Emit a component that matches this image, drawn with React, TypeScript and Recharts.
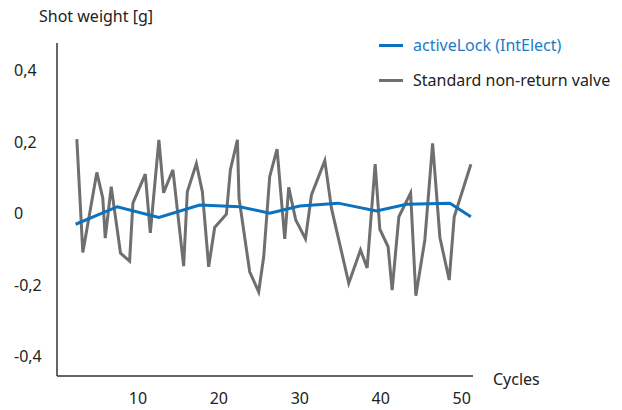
import React from 'react';
import { LineChart, Line, XAxis, YAxis } from 'recharts';

const standardX = [2.45, 3.19, 4.92, 5.66, 5.96, 6.7, 7.85, 8.97, 9.38, 10.91, 11.53, 12.59, 13.17, 14.32, 15.65, 16.1, 17.22, 17.96, 18.74, 19.48, 20.93, 21.42, 22.29, 22.49, 23.81, 24.92, 25.54, 26.28, 27.19, 28.14, 28.63, 29.5, 30.7, 31.44, 33.09, 33.91, 36.05, 37.5, 38.32, 39.31, 39.89, 40.91, 41.41, 42.24, 43.69, 44.34, 45.45, 46.41, 47.31, 48.46, 49.08, 51.14];
const standardY = [0.208, -0.109, 0.115, 0.043, -0.069, 0.075, -0.111, -0.133, 0.029, 0.11, -0.054, 0.206, 0.058, 0.122, -0.147, 0.061, 0.14, 0.061, -0.149, -0.039, -0.002, 0.122, 0.206, 0.043, -0.163, -0.219, -0.121, 0.103, 0.18, -0.071, 0.073, -0.018, -0.071, 0.052, 0.148, 0.015, -0.195, -0.102, -0.152, 0.138, -0.044, -0.093, -0.214, -0.009, 0.057, -0.23, -0.074, 0.196, -0.067, -0.186, -0.009, 0.138];

const activeX = [2.3, 7.45, 12.59, 17.63, 22.57, 26.28, 29.99, 34.73, 39.48, 43.19, 48.55, 51.14];
const activeY = [-0.03, 0.019, -0.011, 0.024, 0.019, 0.001, 0.021, 0.029, 0.007, 0.026, 0.029, -0.009];

const xTicks = [10, 20, 30, 40, 50];
const yTicks = [-0.4, -0.2, 0, 0.2, 0.4];

const seriesNames = ['activeLock (IntElect)', 'Standard non-return valve'];
const seriesColors = ['#0a72bf', '#6f6f6f'];

const standardData = standardX.map((x, i) => ({ x, y: standardY[i] }));
const activeData = activeX.map((x, i) => ({ x, y: activeY[i] }));

const FONT = '"Noto Sans", sans-serif';
const TEXT = '#222';
const FS = 16;

const fmt = (v: number) => (v === 0 ? '0' : String(v).replace('.', ','));

const YTick = (props: any) => {
  const { y, payload } = props;
  return (
    <text x={14} y={y} dy="0.35em" textAnchor="start" fontFamily={FONT} fontSize={FS} fill={TEXT}>
      {fmt(payload.value)}
    </text>
  );
};

const XTick = (props: any) => {
  const { x, payload } = props;
  return (
    <text x={x} y={376 + 22} dy="0.35em" textAnchor="middle" fontFamily={FONT} fontSize={FS} fill={TEXT}>
      {payload.value}
    </text>
  );
};

export default function App() {
  return (
    <div style={{ position: 'absolute', left: 0, top: 0, width: 622, height: 410, background: '#fff' }}>
      <LineChart width={622} height={410} data={standardData} margin={{ top: 43, right: 149, bottom: 0, left: 0 }}>
        <XAxis
          type="number"
          dataKey="x"
          domain={[0, 51.4]}
          ticks={xTicks}
          tick={<XTick />}
          tickLine={false}
          axisLine={{ stroke: '#333', strokeWidth: 1.5 }}
          height={34}
          allowDataOverflow
          label={{
            content: () => (
              <text x={493} y={379} dy="0.35em" textAnchor="start" fontFamily={FONT} fontSize={FS} fill={TEXT}>
                Cycles
              </text>
            ),
          }}
        />
        <YAxis
          type="number"
          domain={[-0.4545, 0.477]}
          ticks={yTicks}
          tick={<YTick />}
          tickLine={false}
          axisLine={{ stroke: '#333', strokeWidth: 1.5 }}
          width={57}
          allowDataOverflow
          label={{
            content: () => (
              <text x={39} y={16} dy="0.35em" textAnchor="start" fontFamily={FONT} fontSize={FS} fill={TEXT}>
                Shot weight [g]
              </text>
            ),
          }}
        />
        <Line
          data={standardData}
          dataKey="y"
          type="linear"
          stroke={seriesColors[1]}
          strokeWidth={3}
          dot={false}
          isAnimationActive={false}
          name={seriesNames[1]}
        />
        <Line
          data={activeData}
          dataKey="y"
          type="linear"
          stroke={seriesColors[0]}
          strokeWidth={3}
          dot={false}
          isAnimationActive={false}
          name={seriesNames[0]}
        />
      </LineChart>
      <div style={{ position: 'absolute', left: 379, top: 34, fontFamily: FONT, fontSize: FS }}>
        {seriesNames.map((n, i) => (
          <div key={n} style={{ display: 'flex', alignItems: 'center', height: 22, marginBottom: i === 0 ? 13 : 0 }}>
            <div style={{ width: 24, height: 3, background: seriesColors[i], marginRight: 10 }} />
            <span style={{ color: i === 0 ? '#1b7cc6' : TEXT, whiteSpace: 'nowrap' }}>{n}</span>
          </div>
        ))}
      </div>
    </div>
  );
}
